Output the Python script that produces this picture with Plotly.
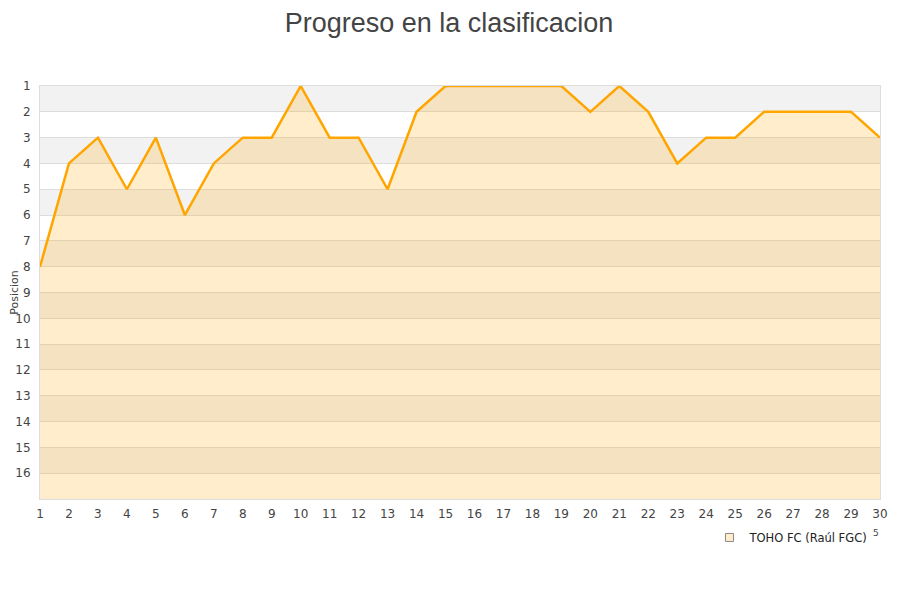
import plotly.graph_objects as go

jornadas = list(range(1, 31))
posiciones = [8, 4, 3, 5, 3, 6, 4, 3, 3, 1, 3, 3, 5, 2, 1, 1, 1, 1, 1, 2,
              1, 2, 4, 3, 3, 2, 2, 2, 2, 3]
equipo = 'TOHO FC (Raúl FGC)'
y_ticks = list(range(1, 17))
fondo = 17

fig = go.Figure()

# base invisible para rellenar hacia abajo (eje invertido)
fig.add_trace(go.Scatter(x=jornadas, y=[fondo] * len(jornadas), mode='lines',
                         line=dict(width=0), hoverinfo='skip', showlegend=False))
fig.add_trace(go.Scatter(x=jornadas, y=posiciones, mode='lines', fill='tonexty',
                         fillcolor='rgba(255,165,0,0.2)',
                         line=dict(color='#FFA500', width=2.5),
                         cliponaxis=False, showlegend=False, name=equipo))
# entrada de leyenda con cuadradito
fig.add_trace(go.Scatter(x=[None], y=[None], mode='markers', name=equipo,
                         marker=dict(symbol='square', size=8, color='#FFEDCC',
                                     line=dict(color='#888', width=1))))

# bandas alternas del fondo
shapes = []
for p in y_ticks[::2]:
    shapes.append(dict(type='rect', xref='paper', yref='y', x0=0, x1=1,
                       y0=p, y1=p + 1, fillcolor='#f2f2f2', line_width=0,
                       layer='below'))

fig.update_layout(
    width=900, height=600,
    paper_bgcolor='white', plot_bgcolor='white',
    margin=dict(l=32, r=28, t=78, b=109, autoexpand=False),
    title=dict(text='Progreso en la clasificacion', x=0.49, xanchor='center',
               y=0.976, yanchor='middle', automargin=False,
               font=dict(family='Liberation Sans', size=27, color='#444')),
    font=dict(family='DejaVu Sans', size=12, color='#444'),
    shapes=shapes,
    showlegend=True,
    legend=dict(x=0.797, y=-0.058, xanchor='left', yanchor='top',
                font=dict(family='DejaVu Sans', size=11.5, color='#222'),
                bgcolor='rgba(0,0,0,0)', itemwidth=30),
    annotations=[dict(text='5', x=1.0015, y=-0.099, xref='paper', yref='paper',
                      showarrow=False, font=dict(size=9, color='#444'))],
)

fig.update_xaxes(range=[1, 30], tickmode='array', tickvals=jornadas,
                 showgrid=False, zeroline=False, showline=True,
                 linecolor='#dddddd', linewidth=1, mirror=True, ticks='',
                 automargin=False, ticklabelstandoff=4,
                 tickfont=dict(size=12, color='#444'))
fig.update_yaxes(range=[fondo, 1], tickmode='array', tickvals=y_ticks,
                 showgrid=True, gridcolor='#dddddd', gridwidth=1,
                 zeroline=False, showline=True, linecolor='#dddddd',
                 linewidth=1, mirror=True, ticks='', ticklabelstandoff=6,
                 automargin=False,
                 title=dict(text='Posicion', font=dict(size=11, color='#444'),
                            standoff=12),
                 tickfont=dict(size=12, color='#444'))

fig.write_html('out.html')
